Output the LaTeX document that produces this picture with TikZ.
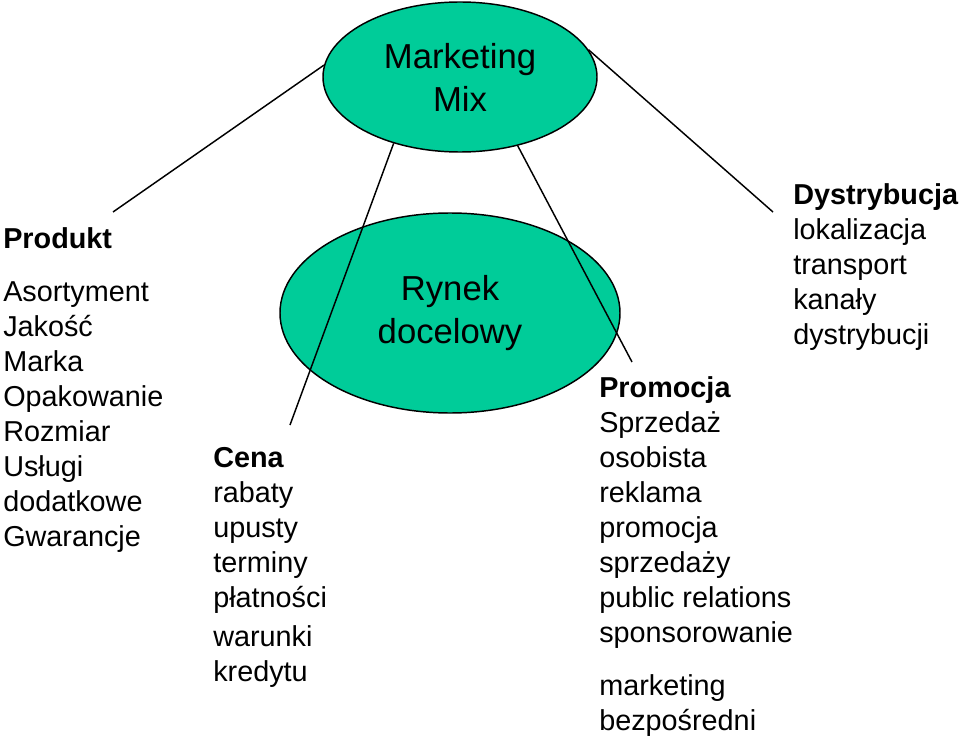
\documentclass[tikz,border=0pt]{standalone}
\usepackage{fontspec}
\setmainfont{Liberation Sans}
\usetikzlibrary{positioning,shapes.geometric}
\definecolor{mixgreen}{RGB}{0,204,153}
\tikzset{
  oval/.style={ellipse, draw, line width=1.1pt, fill=mixgreen, inner sep=0pt,
               align=center, font=\fontsize{26}{32.25}\selectfont},
  lst/.style={anchor=north west, align=left, inner sep=0pt,
              font=\fontsize{21.6}{26.25}\selectfont},
  ln/.style={line width=1.1pt},
}

\begin{document}
\begin{tikzpicture}[x=0.75pt,y=-0.75pt]
\useasboundingbox (0,0) rectangle (960,738);
\node[oval, minimum width=205.5pt, minimum height=112.5pt] (mm) at (460,77) {Marketing\\Mix};
\node[oval, minimum width=255pt, minimum height=150pt] (rd) at (450,313) {Rynek\\docelowy};
% the four groups
\node[lst] (prd) at (3,227) {\textbf{Produkt}\\[13.5pt]Asortyment\\Jakość\\Marka\\Opakowanie\\Rozmiar\\Usługi\\dodatkowe\\Gwarancje};
\node[lst] (cen) at (213,447) {\textbf{Cena}\\rabaty\\upusty\\terminy\\płatności\\[3pt]warunki\\kredytu};
\node[lst] (prm) at (599,376) {\textbf{Promocja}\\Sprzedaż\\osobista\\reklama\\promocja\\sprzedaży\\public relations\\sponsorowanie\\[13.5pt]marketing\\bezpośredni};
\node[lst] (dys) at (793,183) {\textbf{Dystrybucja}\\lokalizacja\\transport\\kanały\\dystrybucji};
% connectors
\coordinate (e1) at (113,212);
\coordinate (e2) at (290,425);
\coordinate (e3) at (632,362);
\coordinate (e4) at (773,212);
\draw[ln] (mm.175) -- (e1);
\draw[ln] (mm.225) -- (e2);
\draw[ln] (mm.310) -- (e3);
\draw[ln] (mm.12) -- (e4);
\end{tikzpicture}
\end{document}
